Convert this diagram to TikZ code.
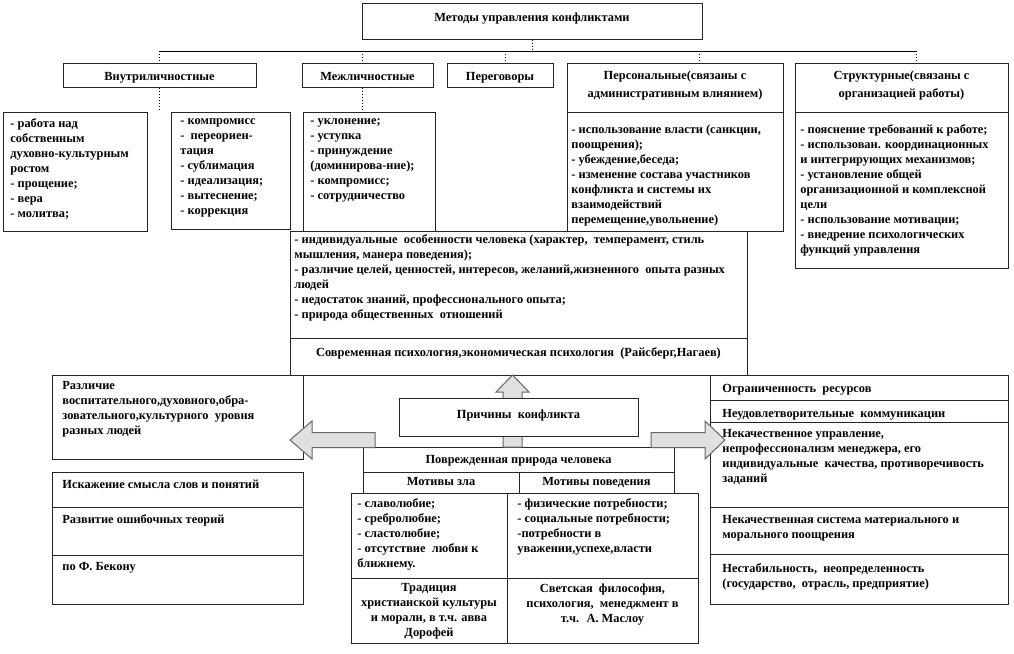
\documentclass[tikz,border=0pt]{standalone}
\usepackage{fontspec}
\setmainfont{Liberation Serif}
\usetikzlibrary{fit,calc}
\tikzset{
  box/.style={draw=black!85, line width=0.5pt, inner sep=0pt, fill=white},
  lbl/.style={font=\bfseries\fontsize{6.2}{7.5}\selectfont, inner sep=0pt, align=left,
    anchor=north west, execute at begin node={\rule{0pt}{5pt}}},
  clbl/.style={lbl, align=center, anchor=north},
  drop/.style={line width=0.5pt, densely dotted},
  bus/.style={line width=0.5pt},
  blockarrow/.style={fill=black!12, draw=black!60, line width=0.5pt}
}

\begin{document}
\begin{tikzpicture}[x=0.5pt, y=-0.5pt]
  \useasboundingbox (0,0) rectangle (1014,654);

  % frames
  \node[box, fit={(362,3) (702,39)}] (titleBox) {};
  \node[box, fit={(63,63) (256,87)}] (intraBox) {};
  \node[box, fit={(302,63) (433,87)}] (interBox) {};
  \node[box, fit={(447,63) (553,87)}] (negoBox) {};
  \node[box, fit={(567,63) (783,112)}] (persHead) {};
  \node[box, fit={(567,112) (783,231)}] (persBody) {};
  \node[box, fit={(795,63) (1008,112)}] (structHead) {};
  \node[box, fit={(795,112) (1008,268)}] (structBody) {};

  \node[box, fit={(3,112) (147,231)}] (selfBox) {};
  \node[box, fit={(171,112) (290,229)}] (defBox) {};
  \node[box, fit={(303,112) (435,231)}] (relBox) {};

  \node[box, fit={(290,231) (747,338)}] (sourceBox) {};
  \node[box, fit={(290,338) (747,375)}] (theoryBox) {};

  \node[box, fit={(52,375) (303,459)}] (eduBox) {};
  \node[box, fit={(52,472) (303,507)}] (wordBox) {};
  \node[box, fit={(52,507) (303,555)}] (errBox) {};
  \node[box, fit={(52,555) (303,604)}] (baconBox) {};

  \node[box, fit={(363,447) (674,472)}] (natureBox) {};
  \node[box, fit={(363,472) (519,493)}] (evilBox) {};
  \node[box, fit={(519,472) (674,493)}] (needBox) {};
  \node[box, fit={(351,493) (507,578)}] (passBox) {};
  \node[box, fit={(507,493) (698,578)}] (wantBox) {};
  \node[box, fit={(351,578) (507,643)}] (faithBox) {};
  \node[box, fit={(507,578) (698,643)}] (worldBox) {};

  \node[box, fit={(710,375) (1008,400)}] (resBox) {};
  \node[box, fit={(710,400) (1008,422)}] (commBox) {};
  \node[box, fit={(710,422) (1008,507)}] (mgmtBox) {};
  \node[box, fit={(710,507) (1008,554)}] (rewardBox) {};
  \node[box, fit={(710,554) (1008,604)}] (riskBox) {};

  % tree lines
  \coordinate (busL) at (159,51);
  \coordinate (busR) at (916,51);
  \coordinate (dInter) at (362,51);
  \coordinate (dNego) at (505,51);
  \coordinate (dPers) at (699,51);
  \draw[bus] (busL) -- (busR);
  \draw[drop] (titleBox.south) -- (titleBox.south |- busL);
  \foreach \d/\b in {busL/intraBox, dInter/interBox, dNego/negoBox, dPers/persHead, busR/structHead}
    \draw[drop] (\d) -- (\d |- \b.north);
  \draw[drop] (busL |- intraBox.south) -- (busL |- selfBox.north);
  \draw[drop] (dInter |- interBox.south) -- (dInter |- relBox.north);

  % block arrows
  \filldraw[blockarrow] (503,447) -- (503,392) -- (496,392) -- (512.5,375) -- (529,392) -- (522,392) -- (522,447) -- cycle;
  \filldraw[blockarrow] (375,432.5) -- (312,432.5) -- (312,421) -- (290,440) -- (312,459) -- (312,447.5) -- (375,447.5) -- cycle;
  \filldraw[blockarrow] (651,432.5) -- (705,432.5) -- (705,421) -- (725,440) -- (705,459) -- (705,447.5) -- (651,447.5) -- cycle;
  \node[box, fit={(399,398) (638,436)}] (causeBox) {};

  % texts
  \node[clbl] (titleText) at (532,11) {Методы управления конфликтами};
  \node[clbl] (intraText) at (intraBox.center |- 0,70) {Внутриличностные};
  \node[clbl] (interText) at (interBox.center |- 0,70) {Межличностные};
  \node[clbl] (negoText) at (negoBox.center |- 0,70) {Переговоры};
  \node[clbl] (persHeadText) at (persHead.center |- 0,70) {Персональные(связаны с\\[1.5pt]административным влиянием)};
  \node[clbl] (structHeadText) at (structHead.center |- 0,70) {Структурные(связаны с\\[1.5pt]организацией работы)};

  \node[lbl] (selfText) at (10,118) {- работа над\\собственным\\духовно-культурным\\ростом\\- прощение;\\- вера\\- молитва;};
  \node[lbl] (defText) at (180,118) {- компромисс\\- \ переориен-\\тация\\- сублимация\\- идеализация;\\- вытеснение;\\- коррекция};
  \node[lbl] (relText) at (310,118) {- уклонение;\\- уступка\\- принуждение\\(доминирова-ние);\\- компромисс;\\- сотрудничество};
  \node[lbl] (persText) at (571,124) {- использование власти (санкции,\\поощрения);\\- убеждение,беседа;\\- изменение состава участников\\конфликта и системы их\\взаимодействий\\перемещение,увольнение)};
  \node[lbl] (structText) at (800,124) {- пояснение требований к работе;\\- использован. координационных\\и интегрирующих механизмов;\\- установление общей\\организационной и комплексной\\цели\\- использование мотивации;\\- внедрение психологических\\функций управления};

  \node[lbl] (sourceText) at (294,234) {- индивидуальные \ особенности человека (характер, \ темперамент, стиль\\мышления, манера поведения);\\- различие целей, ценностей, интересов, желаний,жизненного \ опыта разных\\людей\\- недостаток знаний, профессионального опыта;\\- природа общественных \ отношений};
  \node[clbl] (theoryText) at (theoryBox.center |- 0,346) {Современная психология,экономическая психология \ (Райсберг,Нагаев)};

  \node[lbl] (eduText) at (62,381) {Различие\\воспитательного,духовного,обра-\\зовательного,культурного \ уровня\\разных людей};
  \node[lbl] (wordText) at (62,478) {Искажение смысла слов и понятий};
  \node[lbl] (errText) at (62,513) {Развитие ошибочных теорий};
  \node[lbl] (baconText) at (62,560) {по Ф. Бекону};

  \node[clbl] (causeText) at (causeBox.center |- 0,408) {Причины \ конфликта};
  \node[clbl] (natureText) at (natureBox.center |- 0,453) {Поврежденная природа человека};
  \node[clbl] (evilText) at (evilBox.center |- 0,475) {Мотивы зла};
  \node[clbl] (needText) at (needBox.center |- 0,475) {Мотивы поведения};
  \node[lbl] (passText) at (357,498) {- славолюбие;\\- сребролюбие;\\- сластолюбие;\\- отсутствие \ любви к\\ближнему.};
  \node[lbl] (wantText) at (517,498) {- физические потребности;\\- социальные потребности;\\-потребности в\\уважении,успехе,власти};
  \node[clbl] (faithText) at (faithBox.center |- 0,583) {Традиция\\христианской культуры\\и морали, в т.ч. авва\\Дорофей};
  \node[clbl] (worldText) at (worldBox.center |- 0,583) {Светская \ философия,\\психология, \ менеджмент в\\т.ч. \ А. Маслоу};

  \node[lbl] (resText) at (722,382) {Ограниченность \ ресурсов};
  \node[lbl] (commText) at (722,407) {Неудовлетворительные \ коммуникации};
  \node[lbl] (mgmtText) at (722,429) {Некачественное управление,\\непрофессионализм менеджера, его\\индивидуальные \ качества, противоречивость\\заданий};
  \node[lbl] (rewardText) at (722,515) {Некачественная система материального и\\морального поощрения};
  \node[lbl] (riskText) at (722,563) {Нестабильность, \ неопределенность\\(государство, \ отрасль, предприятие)};
\end{tikzpicture}
\end{document}
